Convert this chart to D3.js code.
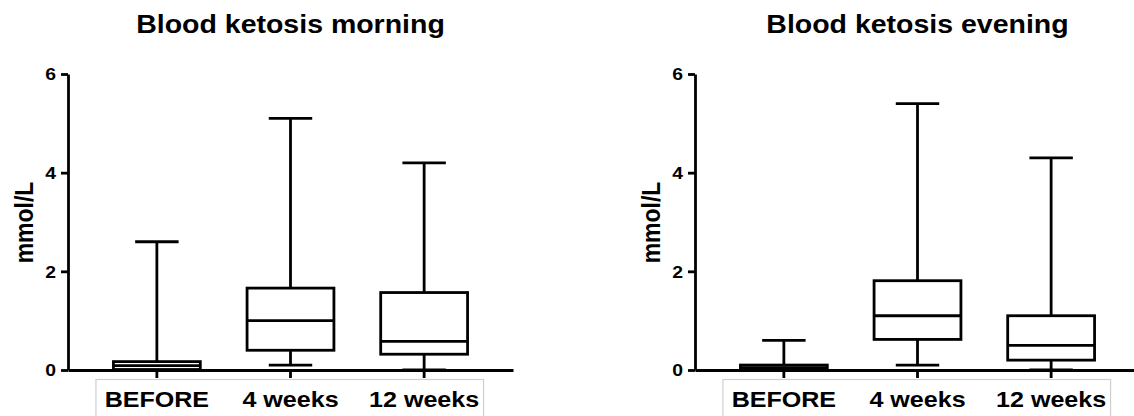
<!DOCTYPE html>
<html>
<head>
<meta charset="utf-8">
<script src="https://cdn.jsdelivr.net/npm/d3@7"></script>
<style>
  html, body { margin: 0; padding: 0; background: #fff; }
  svg { display: block; }
  text { font-family: Arial, "Liberation Sans", sans-serif; font-weight: bold; fill: #000; }
</style>
</head>
<body>
<svg id="chart" width="1134" height="416"></svg>
<script>
// Blood ketone levels (mmol/L) measured before the diet and after 4 and 12 weeks
const categories = ["BEFORE", "4 weeks", "12 weeks"];

const morningMin    = [0.00, 0.10, 0.00];
const morningQ1     = [0.01, 0.40, 0.32];
const morningMedian = [0.09, 1.00, 0.58];
const morningQ3     = [0.17, 1.66, 1.57];
const morningMax    = [2.60, 5.10, 4.20];

const eveningMin    = [0.00, 0.10, 0.00];
const eveningQ1     = [0.00, 0.62, 0.20];
const eveningMedian = [0.05, 1.10, 0.50];
const eveningQ3     = [0.10, 1.81, 1.10];
const eveningMax    = [0.60, 5.40, 4.30];

const yTicks = [0, 2, 4, 6];
const panelTitles = ["Blood ketosis morning", "Blood ketosis evening"];
const yLabel = "mmol/L";

const svg = d3.select("#chart");
const SX = 1.14;          // horizontal glyph stretch used for all labels
const STROKE = 2.8;
const plotTop = 74, plotBottom = 370;

const y = d3.scaleLinear().domain([0, 6]).range([plotBottom, plotTop]);

function buildRows(mins, q1s, meds, q3s, maxs) {
  return categories.map((c, i) => ({
    cat: c, min: mins[i], q1: q1s[i], med: meds[i], q3: q3s[i], max: maxs[i]
  }));
}

const panels = [
  { title: panelTitles[0], x0: 68,  rows: buildRows(morningMin, morningQ1, morningMedian, morningQ3, morningMax) },
  { title: panelTitles[1], x0: 695, rows: buildRows(eveningMin, eveningQ1, eveningMedian, eveningQ3, eveningMax) }
];

panels.forEach(p => {
  const x = d3.scaleBand()
    .domain(categories)
    .range([p.x0, p.x0 + 445])
    .paddingInner(0.35)
    .paddingOuter(0.34);
  const bw = x.bandwidth();
  const g = svg.append("g");

  // title centred over the middle group
  g.append("text")
    .attr("transform", `translate(${x(categories[1]) + bw / 2},33) scale(${SX},1)`)
    .attr("text-anchor", "middle")
    .style("font-size", "25px")
    .text(p.title);

  // y axis title
  g.append("text")
    .attr("transform", `translate(${p.x0 - 35},${(plotTop + plotBottom) / 2 + 0.5}) scale(${SX},1) rotate(-90)`)
    .attr("text-anchor", "middle")
    .style("font-size", "23px")
    .text(yLabel);

  // frame around the category labels
  const fx0 = x(categories[0]) - 17.5;
  const fx1 = x(categories[2]) + bw + 16;
  g.append("rect")
    .attr("x", fx0)
    .attr("y", 379.5)
    .attr("width", fx1 - fx0)
    .attr("height", 60)
    .attr("fill", "none")
    .attr("stroke", "#cfcfcf")
    .attr("stroke-width", 1.2);

  const boxes = g.selectAll("g.box").data(p.rows).join("g").attr("class", "box");
  const cx = d => x(d.cat) + bw / 2;

  // whiskers and caps
  boxes.append("line")
    .attr("x1", cx).attr("x2", cx)
    .attr("y1", d => y(d.q3)).attr("y2", d => y(d.max))
    .attr("stroke", "#000").attr("stroke-width", STROKE);
  boxes.append("line")
    .attr("x1", cx).attr("x2", cx)
    .attr("y1", d => y(d.q1)).attr("y2", d => y(d.min))
    .attr("stroke", "#000").attr("stroke-width", STROKE);
  boxes.append("line")
    .attr("x1", d => cx(d) - bw / 4).attr("x2", d => cx(d) + bw / 4)
    .attr("y1", d => y(d.max)).attr("y2", d => y(d.max))
    .attr("stroke", "#000").attr("stroke-width", STROKE);
  boxes.append("line")
    .attr("x1", d => cx(d) - bw / 4).attr("x2", d => cx(d) + bw / 4)
    .attr("y1", d => y(d.min)).attr("y2", d => y(d.min))
    .attr("stroke", "#000").attr("stroke-width", STROKE);

  // boxes and medians
  boxes.append("rect")
    .attr("x", d => x(d.cat))
    .attr("y", d => y(d.q3))
    .attr("width", bw)
    .attr("height", d => y(d.q1) - y(d.q3))
    .attr("fill", "#fff")
    .attr("stroke", "#000").attr("stroke-width", STROKE);
  boxes.append("line")
    .attr("x1", d => x(d.cat)).attr("x2", d => x(d.cat) + bw)
    .attr("y1", d => y(d.med)).attr("y2", d => y(d.med))
    .attr("stroke", "#000").attr("stroke-width", STROKE);

  // y axis
  const yAxis = g.append("g")
    .attr("transform", `translate(${p.x0},0)`)
    .call(d3.axisLeft(y).tickValues(yTicks).tickSize(7).tickSizeOuter(0).tickPadding(3.5).tickFormat(d3.format("d")));
  yAxis.selectAll("path, line").attr("stroke", "#000").attr("stroke-width", STROKE);
  yAxis.selectAll("text")
    .attr("transform", `scale(${SX},1)`)
    .attr("dy", "0.35em")
    .style("font-size", "17px")
    .attr("fill", "#000");

  // x axis
  const xAxis = g.append("g")
    .attr("transform", `translate(0,${plotBottom})`)
    .call(d3.axisBottom(x).tickSize(8).tickSizeOuter(0).tickPadding(13.4));
  xAxis.selectAll("path, line").attr("stroke", "#000").attr("stroke-width", STROKE);
  xAxis.selectAll("text")
    .attr("transform", `scale(${SX},1)`)
    .style("font-size", "22px")
    .attr("fill", "#000");
});
</script>
</body>
</html>
